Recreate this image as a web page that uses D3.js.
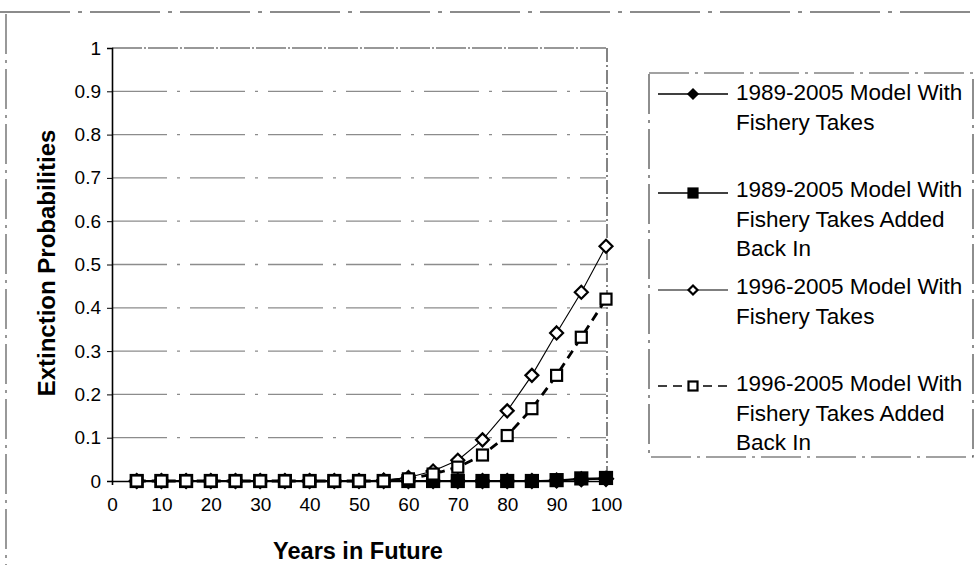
<!DOCTYPE html>
<html>
<head>
<meta charset="utf-8">
<script src="https://cdn.jsdelivr.net/npm/d3@7"></script>
<style>
  body { margin: 0; background: #fff; }
  svg { display: block; font-family: Arial, "Liberation Sans", sans-serif; }
</style>
</head>
<body>
<svg id="chart" width="977" height="585"></svg>
<script>
const years = [5, 10, 15, 20, 25, 30, 35, 40, 45, 50, 55, 60, 65, 70, 75, 80, 85, 90, 95, 100]
const s1989Takes = [0, 0, 0, 0, 0, 0, 0, 0, 0, 0, 0, 0, 0, 0, 0, 0, 0, 0.001, 0.004, 0.005]
const s1989Added = [0, 0, 0, 0, 0, 0, 0, 0, 0, 0, 0, 0, 0, 0, 0, 0, 0, 0.002, 0.006, 0.007]
const s1996Takes = [0, 0, 0, 0, 0, 0, 0, 0, 0, 0, 0.002, 0.008, 0.023, 0.048, 0.095, 0.162, 0.244, 0.342, 0.436, 0.542]
const s1996Added = [0, 0, 0, 0, 0, 0, 0, 0, 0, 0, 0, 0.005, 0.016, 0.032, 0.06, 0.105, 0.167, 0.244, 0.332, 0.42]
const seriesNames = [
	['1989-2005 Model With', 'Fishery Takes'],
	['1989-2005 Model With', 'Fishery Takes Added', 'Back In'],
	['1996-2005 Model With', 'Fishery Takes'],
	['1996-2005 Model With', 'Fishery Takes Added', 'Back In']
]
const xTicks = [0, 10, 20, 30, 40, 50, 60, 70, 80, 90, 100]
const yTicks = [0, 0.1, 0.2, 0.3, 0.4, 0.5, 0.6, 0.7, 0.8, 0.9, 1]

const series = [
	{ values: s1989Takes, marker: 'diamond', fill: '#000', dash: null, width: 1.8, size: 7 },
	{ values: s1989Added, marker: 'square', fill: '#000', dash: null, width: 1.4, size: 6 },
	{ values: s1996Takes, marker: 'diamond', fill: '#fff', dash: null, width: 1.1, size: 6.5 },
	{ values: s1996Added, marker: 'square', fill: '#fff', dash: '9,6', width: 2.8, size: 5.5 }
]

const svg = d3.select('#chart')
const x = d3.scaleLinear().domain([0, 100]).range([112, 606])
const y = d3.scaleLinear().domain([0, 1]).range([481, 48])

// outer frame (scanned, broken)
svg.append('line').attr('x1', 0).attr('x2', 977).attr('y1', 12).attr('y2', 12)
	.attr('stroke', '#666').attr('stroke-width', 1.5).attr('stroke-dasharray', '70,8,4,8')
svg.append('line').attr('x1', 6).attr('x2', 6).attr('y1', 14).attr('y2', 565)
	.attr('stroke', '#555').attr('stroke-width', 1.2).attr('stroke-dasharray', '40,6,3,6')

// grid
svg.append('g').selectAll('line').data(yTicks.filter(d => d > 0 && d < 1)).join('line')
	.attr('x1', x(0)).attr('x2', x(100))
	.attr('y1', d => y(d)).attr('y2', d => y(d))
	.attr('stroke', '#8c8c8c').attr('stroke-width', 1.3)
	.attr('stroke-dasharray', '55,10,3,10')

// plot border top / right
svg.append('line').attr('x1', x(0)).attr('x2', x(100)).attr('y1', y(1)).attr('y2', y(1))
	.attr('stroke', '#333').attr('stroke-width', 1.2).attr('stroke-dasharray', '30,2,2,2')
svg.append('line').attr('x1', x(100) + 1).attr('x2', x(100) + 1).attr('y1', y(1)).attr('y2', y(0))
	.attr('stroke', '#333').attr('stroke-width', 1.2).attr('stroke-dasharray', '14,3,2,3')

// axes
const yAxis = svg.append('g').attr('transform', `translate(${x(0)},0)`)
	.call(d3.axisLeft(y).tickValues(yTicks).tickSize(5).tickPadding(6).tickFormat(d3.format('~g')))
const xAxis = svg.append('g').attr('transform', `translate(0,${y(0)})`)
	.call(d3.axisBottom(x).tickValues(xTicks).tickSize(4).tickPadding(13))
for (const g of [yAxis, xAxis]) {
	g.select('.domain').attr('stroke', '#000').attr('stroke-width', 1.6)
	g.selectAll('.tick line').attr('stroke', '#000')
	g.selectAll('.tick text').attr('font-size', 19).attr('font-family', 'Arial, "Liberation Sans", sans-serif').attr('fill', '#000')
}

// titles
svg.append('text').attr('x', 358).attr('y', 559).attr('text-anchor', 'middle')
	.attr('font-size', 23.5).attr('font-weight', 'bold').text('Years in Future')
svg.append('text').attr('transform', 'translate(55,263) rotate(-90)').attr('text-anchor', 'middle')
	.attr('font-size', 24).attr('font-weight', 'bold').text('Extinction Probabilities')

// lines and markers
const line = d3.line().x((d, i) => x(years[i])).y(d => y(d))
function drawMarker(sel, s, cx, cy, r) {
	if (s.marker === 'diamond') {
		sel.append('path').attr('d', `M${cx},${cy - r}L${cx + r},${cy}L${cx},${cy + r}L${cx - r},${cy}Z`)
			.attr('fill', s.fill).attr('stroke', '#000').attr('stroke-width', 2.2)
	} else {
		sel.append('rect').attr('x', cx - r).attr('y', cy - r).attr('width', 2 * r).attr('height', 2 * r)
			.attr('fill', s.fill).attr('stroke', '#000').attr('stroke-width', 2.2)
	}
}
series.forEach(s => {
	svg.append('path').attr('d', line(s.values)).attr('fill', 'none')
		.attr('stroke', '#000').attr('stroke-width', s.width)
		.attr('stroke-dasharray', s.dash)
	const g = svg.append('g')
	s.values.forEach((v, i) => drawMarker(g, s, x(years[i]), y(v), s.size))
})

// legend
const legend = svg.append('g')
legend.append('rect').attr('x', 649).attr('y', 73).attr('width', 324).attr('height', 384)
	.attr('fill', 'none').attr('stroke', '#444').attr('stroke-width', 1.2).attr('stroke-dasharray', '40,6,3,6')
const legendLineY = [94, 193, 290, 386]
const legendTextY = [100, 197, 294, 391]
series.forEach((s, i) => {
	legend.append('line').attr('x1', 658).attr('x2', 728)
		.attr('y1', legendLineY[i]).attr('y2', legendLineY[i])
		.attr('stroke', '#000').attr('stroke-width', Math.min(s.width, 1.6))
		.attr('stroke-dasharray', s.dash)
	drawMarker(legend, s, 693, legendLineY[i], 4.5)
	const t = legend.append('text').attr('x', 736).attr('y', legendTextY[i]).attr('font-size', 22.5).attr('fill', '#000')
	seriesNames[i].forEach((n, j) => t.append('tspan').attr('x', 736).attr('dy', j === 0 ? 0 : 29.5).text(n))
})
</script>
</body>
</html>
